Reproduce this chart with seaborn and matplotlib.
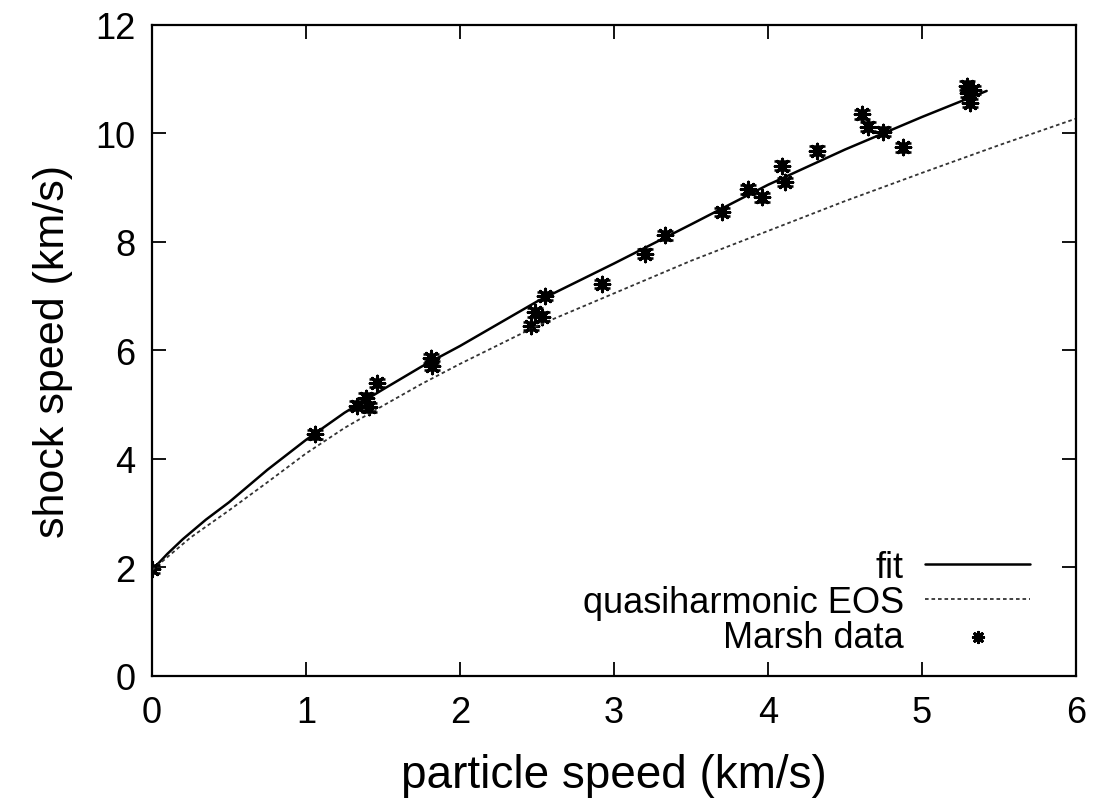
import numpy as np
import seaborn as sns
import matplotlib.pyplot as plt

# fit curve
fit_up = [0.0, 0.1, 0.2, 0.35, 0.5, 0.75, 1.0, 1.25, 1.5, 1.75, 2.0, 2.5, 3.0, 3.5, 4.0, 4.5, 5.0, 5.42]
fit_us = [1.95, 2.25, 2.52, 2.88, 3.20, 3.80, 4.35, 4.85, 5.28, 5.70, 6.08, 6.90, 7.60, 8.32, 9.05, 9.70, 10.30, 10.78]

# quasiharmonic EOS curve
eos_up = [0.0, 0.25, 0.5, 0.75, 1.0, 1.25, 1.5, 1.75, 2.0, 2.25, 2.5, 3.0, 3.5, 4.0, 4.5, 5.0, 5.5, 6.0]
eos_us = [1.95, 2.55, 3.05, 3.57, 4.10, 4.57, 4.98, 5.38, 5.75, 6.10, 6.45, 7.05, 7.65, 8.20, 8.75, 9.27, 9.78, 10.27]

# Marsh data
marsh_up = [0.00, 1.06, 1.33, 1.39, 1.41, 1.46, 1.81, 1.82, 2.46, 2.49, 2.53, 2.55, 2.92, 3.20,
            3.33, 3.70, 3.87, 3.96, 4.09, 4.11, 4.32, 4.61, 4.65, 4.75, 4.88, 5.29, 5.30, 5.31, 5.33]
marsh_us = [1.97, 4.45, 4.98, 5.13, 4.95, 5.40, 5.85, 5.72, 6.45, 6.70, 6.62, 7.00, 7.22, 7.78,
            8.12, 8.55, 8.97, 8.82, 9.40, 9.10, 9.68, 10.35, 10.12, 10.03, 9.74, 10.88, 10.75, 10.56, 10.80]
marsh_err = [0.08] * len(marsh_up)

sns.set_style('ticks')
plt.rcParams['font.family'] = ['Liberation Sans', 'DejaVu Sans']
plt.rcParams['text.color'] = 'black'
plt.rcParams['axes.labelcolor'] = 'black'
plt.rcParams['xtick.color'] = 'black'
plt.rcParams['ytick.color'] = 'black'

fig = plt.figure(figsize=(11.15, 8.04), dpi=100)
ax = fig.add_axes([0.1363, 0.158, 0.8287, 0.810])

sns.lineplot(x=fit_up, y=fit_us, ax=ax, color='black', lw=1.8, label='fit')
sns.lineplot(x=eos_up, y=eos_us, ax=ax, color='#333333', lw=1.3, ls=(0, (2, 1.6)),
             label='quasiharmonic EOS')
ax.errorbar(marsh_up, marsh_us, yerr=marsh_err, fmt='none', ecolor='black',
            elinewidth=1.2, capsize=6, capthick=1.8, label='_nolegend_')
sns.scatterplot(x=marsh_up, y=marsh_us, ax=ax, marker=(8, 2, 0), s=110, color='black',
                linewidth=2.2, label='Marsh data')

ax.set_xlim(0, 6)
ax.set_ylim(0, 12)
ax.set_xticks(range(0, 7))
ax.set_yticks(range(0, 13, 2))
ax.tick_params(direction='in', length=10, width=1.3, top=True, right=True, labelsize=26)
ax.tick_params(axis='x', pad=14)
ax.tick_params(axis='y', pad=12)
for sp in ax.spines.values():
    sp.set_linewidth(1.6)
    sp.set_color('black')

ax.set_xlabel('particle speed (km/s)', fontsize=33, labelpad=16)
ax.set_ylabel('shock speed (km/s)', fontsize=31, labelpad=16)

handles, labels = ax.get_legend_handles_labels()
ax.legend(handles, labels, loc='lower right', bbox_to_anchor=(0.97, 0.005), frameon=False,
          markerfirst=False, fontsize=26, handlelength=2.9, handletextpad=0.6,
          labelspacing=0.0, borderpad=0, markerscale=0.7)

plt.savefig('out.png', dpi=100)
